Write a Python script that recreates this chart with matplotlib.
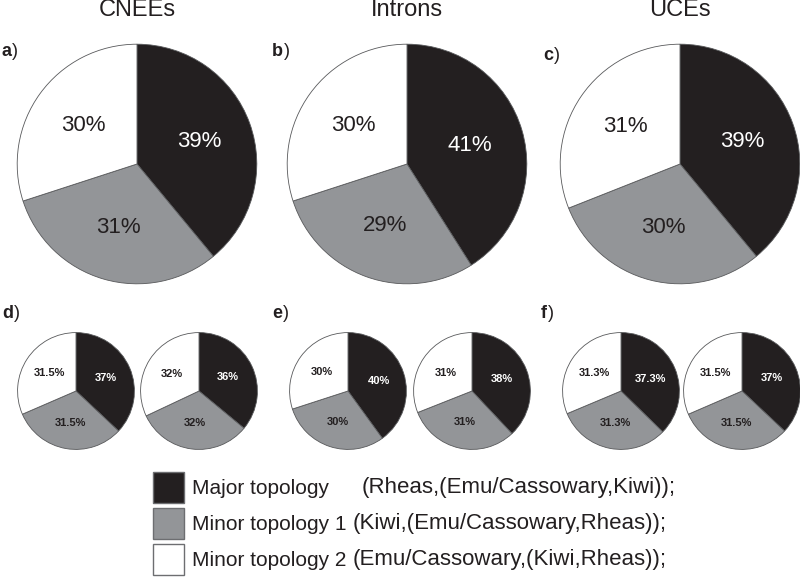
import matplotlib
matplotlib.use("Agg")
import matplotlib.pyplot as plt
from matplotlib.patches import Rectangle

plt.rcParams['font.family'] = ['Liberation Sans', 'DejaVu Sans']

# ---- data ----
titles = ["CNEEs", "Introns", "UCEs"]
big_letters = ["a", "b", "c"]
small_letters = ["d", "e", "f"]
# order: Major, Minor 1, Minor 2
big_values = [[39, 31, 30], [41, 29, 30], [39, 30, 31]]
small_values = [[37, 31.5, 31.5], [36, 32, 32],
                [40, 30, 30], [38, 31, 31],
                [37.3, 31.3, 31.3], [37, 31.5, 31.5]]
legend_names = ["Major topology", "Minor topology 1", "Minor topology 2"]
legend_trees = ["(Rheas,(Emu/Cassowary,Kiwi));",
                "(Kiwi,(Emu/Cassowary,Rheas));",
                "(Emu/Cassowary,(Kiwi,Rheas));"]

colors = ["#231f20", "#939598", "#ffffff"]
text_colors = ["white", "#231f20", "#231f20"]

W, H = 800, 577
fig = plt.figure(figsize=(W / 100, H / 100), dpi=100)
fig.patch.set_facecolor("white")


def fmt(v):
    return f"{v:g}%"


def pie_axes(cx, cy, r):
    return fig.add_axes([(cx - r) / W, (H - cy - r) / H, 2 * r / W, 2 * r / H])


def draw_pie(ax, vals, fs, bold):
    wedges, texts = ax.pie(vals, colors=colors, startangle=90, counterclock=False,
                           labels=[fmt(v) for v in vals], labeldistance=0.55,
                           wedgeprops=dict(edgecolor="#58595b", linewidth=0.6),
                           textprops=dict(fontsize=fs,
                                          fontweight="bold" if bold else "normal"))
    for t, c in zip(texts, text_colors):
        t.set_color(c)
        t.set_ha("center")
        t.set_va("center")
    ax.set_xlim(-1.01, 1.01)
    ax.set_ylim(-1.01, 1.01)
    ax.axis("off")


def ftext(x, y, s, **kw):
    return fig.text(x / W, 1 - y / H, s, **kw)


renderer = fig.canvas.get_renderer()


def panel_label(x, y, letter):
    t = ftext(x, y, letter, ha="left", va="center", fontsize=13, fontweight="bold",
              color="#231f20")
    wpx = t.get_window_extent(renderer=renderer).width
    ftext(x + wpx + 0.5, y, ")", ha="left", va="center", fontsize=13, color="#231f20")


big_cx = [137, 407, 680]
big_cy, big_r = 164, 121
for i in range(3):
    ax = pie_axes(big_cx[i], big_cy, big_r)
    draw_pie(ax, big_values[i], 16, False)
    ftext(big_cx[i], 10, titles[i], ha="center", va="center", fontsize=17, color="#231f20")

big_lab_pos = [(1, 52), (272, 52), (543, 55)]
for (x, y), s in zip(big_lab_pos, big_letters):
    panel_label(x, y, s)

small_cx = [76, 199, 348, 472, 621, 742]
small_cy, small_r = 391, 59
for i in range(6):
    ax = pie_axes(small_cx[i], small_cy, small_r)
    draw_pie(ax, small_values[i], 8, True)

small_lab_pos = [(2, 313), (272, 313), (541, 313)]
for (x, y), s in zip(small_lab_pos, small_letters):
    panel_label(x, y, s)

# legend
rect_tops = [472, 508, 544]
tree_x = [362, 353, 353]
for i in range(3):
    top = rect_tops[i]
    fig.patches.append(Rectangle((153 / W, 1 - (top + 31) / H), 31 / W, 31 / H,
                                 transform=fig.transFigure, facecolor=colors[i],
                                 edgecolor="#6d6e71", linewidth=1.0))
    ftext(192, top + 16, legend_names[i], ha="left", va="center", fontsize=15,
          color="#231f20")
    ftext(tree_x[i], top + 16, legend_trees[i], ha="left", va="center", fontsize=16,
          color="#231f20")

fig.savefig("out.png", dpi=100)
